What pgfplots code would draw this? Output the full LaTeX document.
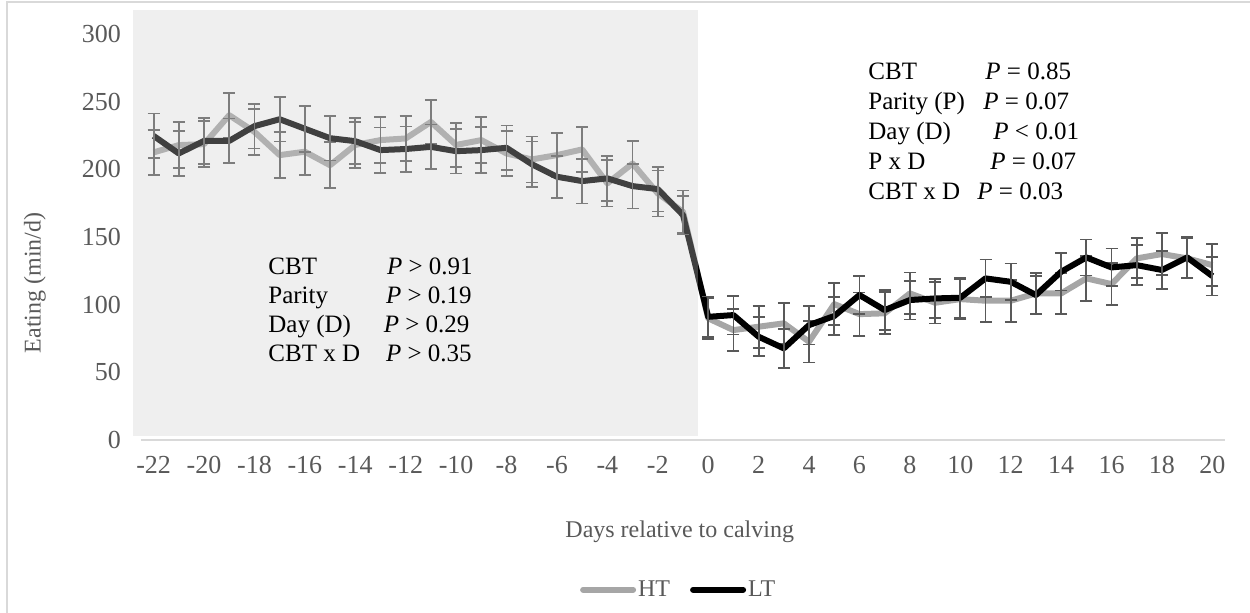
\documentclass[border=0pt]{standalone}
\usepackage{pgfplots}
\pgfplotsset{compat=1.18}
\usepackage{pgfplotstable}
\usepackage{fontspec}
\setmainfont{Liberation Serif}

\definecolor{htcol}{RGB}{166,166,166}
\definecolor{errcol}{RGB}{89,89,89}
\definecolor{txtcol}{RGB}{89,89,89}
\definecolor{axcol}{RGB}{217,217,217}
\definecolor{panelcol}{RGB}{204,204,204}

% eating time (min/d), mean and SE per day
\pgfplotstableread{
day ht htse lt ltse
-22 212.5 16.7 224.7 16.5
-21 217.9 17.0 211.7 16.5
-20 218.6 17.0 221.0 17.0
-19 240.0 16.5 221.0 16.5
-18 227.7 17.0 231.9 16.5
-17 210.5 17.0 237.0 16.5
-16 213.0 17.0 230.0 17.0
-15 203.0 17.0 223.0 16.5
-14 218.0 17.0 220.8 17.0
-13 221.6 17.0 214.2 16.7
-12 222.8 16.7 215.0 16.7
-11 235.0 16.5 216.6 16.5
-10 218.0 16.5 213.4 16.5
-9 221.6 16.8 214.2 16.8
-8 211.7 16.8 215.9 16.5
-7 207.3 17.0 203.8 16.8
-6 210.5 16.5 194.5 15.5
-5 214.7 16.5 191.3 16.5
-4 189.6 17.0 193.3 16.7
-3 204.3 16.5 187.6 16.5
-2 182.2 17.0 185.4 16.5
-1 168.6 15.8 166.2 14.3
0 89.9 15.0 91.0 15.0
1 81.2 15.3 92.3 14.3
2 83.7 15.5 76.3 14.3
3 86.2 15.3 67.7 14.5
4 72.6 15.3 84.9 14.3
5 100.4 15.5 91.6 14.3
6 93.0 16.0 107.1 14.0
7 93.6 15.5 96.0 14.8
8 108.3 15.5 103.4 14.3
9 101.4 15.3 104.6 14.3
10 104.1 14.8 105.1 14.8
11 102.9 15.5 119.4 14.0
12 102.9 15.5 116.9 13.5
13 108.3 15.3 107.1 14.3
14 108.3 15.3 124.3 13.8
15 119.4 16.5 134.9 13.3
16 115.2 15.5 127.5 14.0
17 134.2 14.8 129.2 14.8
18 137.4 15.3 125.6 14.3
19 134.2 14.8 134.9 14.8
20 129.2 15.5 121.1 14.3
}\eating

\begin{document}
\begin{tikzpicture}
\path[use as bounding box] (0pt,0pt) rectangle (625pt,306.5pt);
\draw[axcol, line width=0.75pt] (3.5pt,-5pt) -- (3.5pt,305.5pt) -- (630pt,305.5pt);

\begin{axis}[
  at={(70.5pt,86.5pt)}, anchor=south west,
  scale only axis, width=542pt, height=203pt,
  xmin=-22.5, xmax=20.5, ymin=0, ymax=300,
  clip=false,
  axis x line*=bottom, axis y line*=left,
  x axis line style={axcol, line width=0.75pt, -},
  y axis line style={draw=none},
  major tick length=0pt,
  xtick={-22,-20,...,20},
  xticklabels={-22,-20,-18,-16,-14,-12,-10,-8,-6,-4,-2,0,2,4,6,8,10,12,14,16,18,20},
  ytick={0,50,...,300},
  /pgf/number format/assume math mode=true,
  tick label style={font=\fontsize{13}{15}\selectfont, text=txtcol},
  x tick label style={yshift=-4.5pt},
  y tick label style={xshift=-6.5pt},
  xlabel={Days relative to calving},
  xlabel style={at={(axis description cs:0.497,-0.2266)}, anchor=center,
    font=\fontsize{12}{14}\selectfont, text=txtcol},
  ylabel={Eating (min/d)},
  ylabel style={at={(axis description cs:-0.0978,0.387)}, anchor=center,
    font=\fontsize{12}{14}\selectfont, text=txtcol},
  legend columns=2,
  legend style={at={(axis description cs:0.496,-0.369)}, anchor=center,
    draw=none, fill=none, font=\fontsize{12}{14}\selectfont, text=txtcol,
    nodes={inner sep=1pt},
    /tikz/every even column/.append style={column sep=9pt}},
  legend image code/.code={\draw[#1, line cap=round] (0pt,0pt) -- (25pt,0pt);},
]
\addlegendimage{htcol, line width=3pt}
\addlegendentry{HT}
\addlegendimage{black, line width=3pt}
\addlegendentry{LT}

\addplot[htcol, line width=3pt, line join=round, forget plot,
  error bars/.cd, y dir=both, y explicit,
  error bar style={errcol, line width=0.9pt},
  error mark options={rotate=90, errcol, mark size=3pt, line width=0.9pt}]
  table[x=day, y=ht, y error=htse] {\eating};
\addplot[black, line width=3pt, line join=round, forget plot,
  error bars/.cd, y dir=both, y explicit,
  error bar style={errcol, line width=0.9pt},
  error mark options={rotate=90, errcol, mark size=3pt, line width=0.9pt}]
  table[x=day, y=lt, y error=ltse] {\eating};

% translucent panel over the pre-calving days
\fill[panelcol, fill opacity=0.314] (axis cs:-22.82,3) rectangle (axis cs:-0.41,317.7);
\end{axis}

\begin{scope}[every node/.style={anchor=base west, inner sep=0pt, font=\fontsize{12.5}{15}\selectfont}]
\node at (134pt,169pt) {CBT};
\node at (134pt,154.5pt) {Parity};
\node at (134pt,140pt) {Day (D)};
\node at (134pt,125.5pt) {CBT x D};
\node at (193.3pt,169pt) {\textit{P} > 0.91};
\node at (192.8pt,154.5pt) {\textit{P} > 0.19};
\node at (191.7pt,140pt) {\textit{P} > 0.29};
\node at (192.8pt,125.5pt) {\textit{P} > 0.35};

\node at (434pt,266.5pt) {CBT};
\node at (434pt,251.5pt) {Parity (P)};
\node at (434pt,236.5pt) {Day (D)};
\node at (434pt,221.5pt) {P x D};
\node at (434pt,206.5pt) {CBT x D};
\node at (492.5pt,266.5pt) {\textit{P} = 0.85};
\node at (491.5pt,251.5pt) {\textit{P} = 0.07};
\node at (496.5pt,236.5pt) {\textit{P} < 0.01};
\node at (495pt,221.5pt) {\textit{P} = 0.07};
\node at (488.5pt,206.5pt) {\textit{P} = 0.03};
\end{scope}
\end{tikzpicture}
\end{document}
